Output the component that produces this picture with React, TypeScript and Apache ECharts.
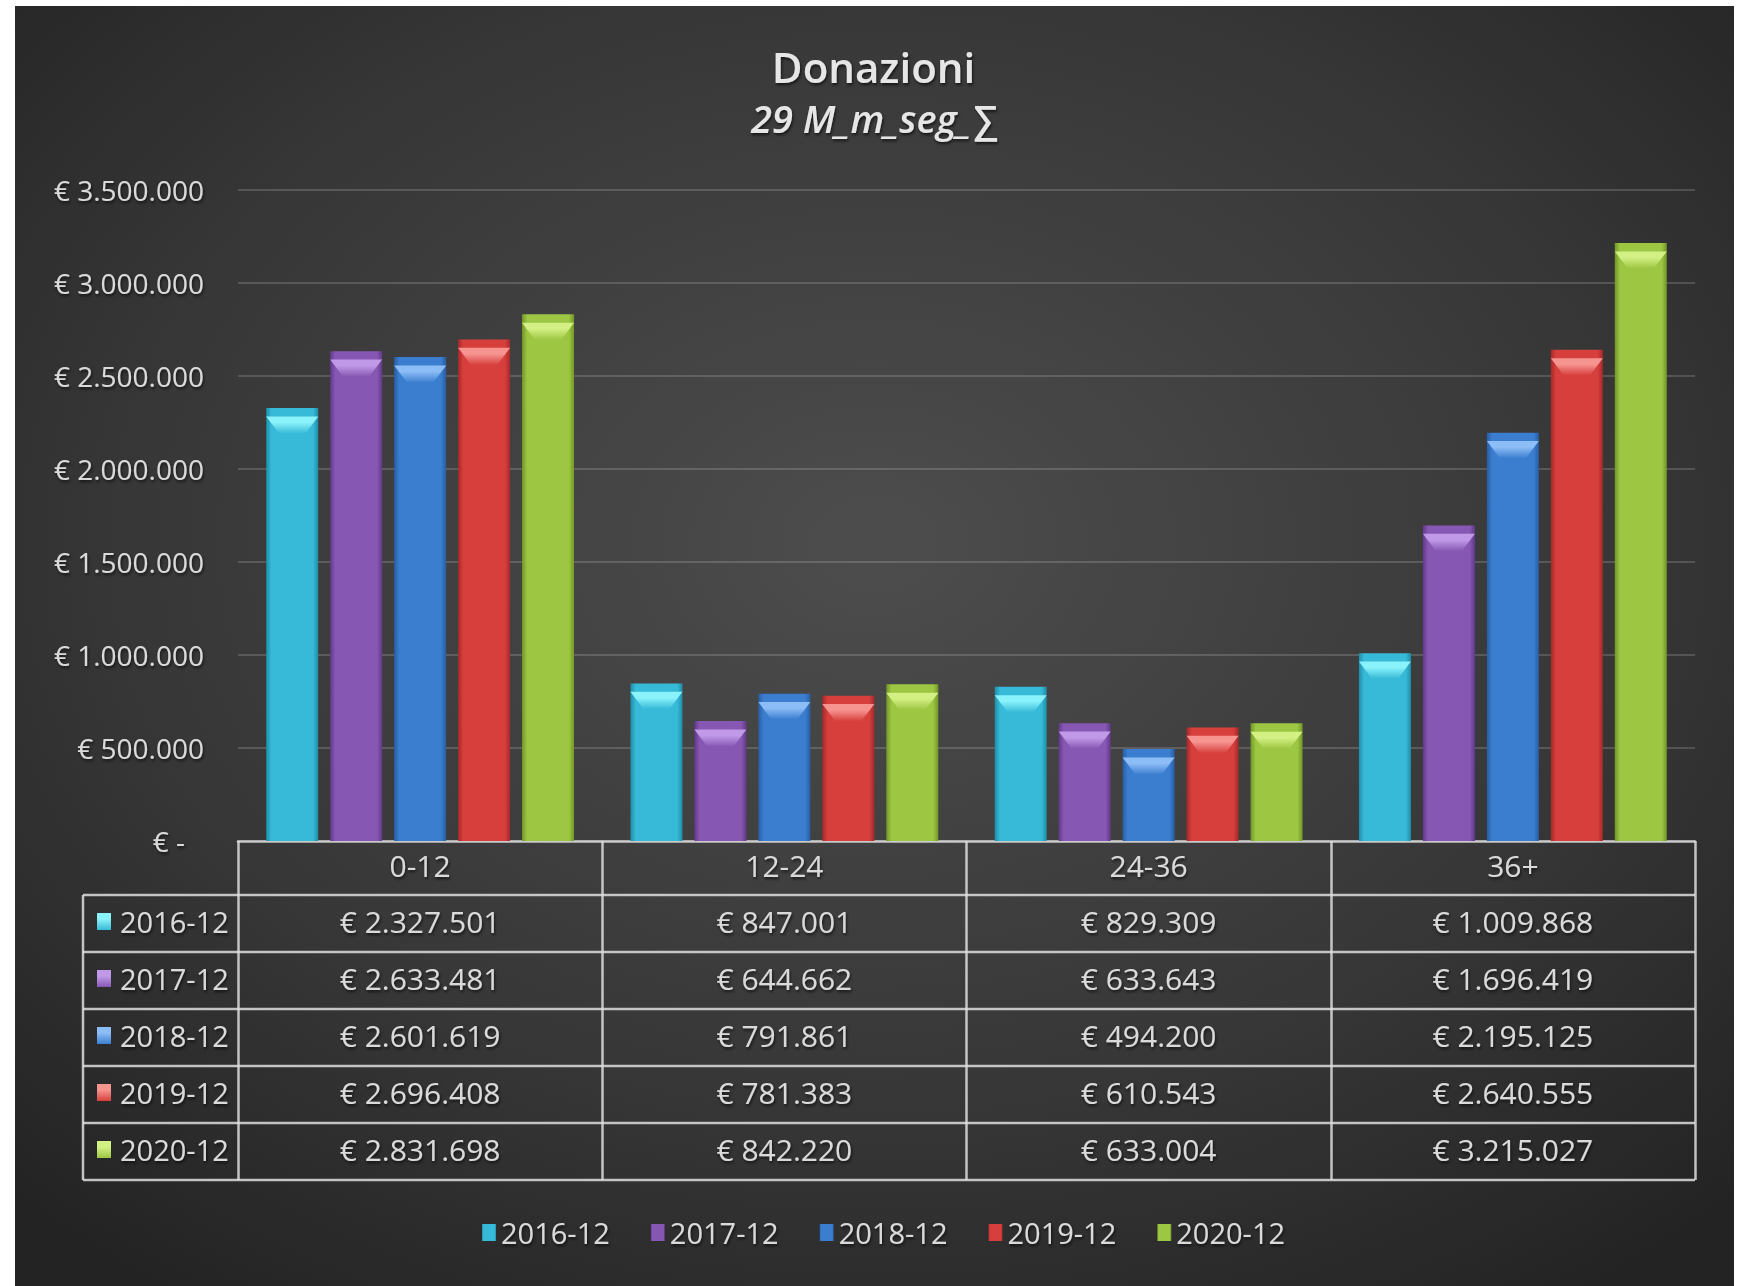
import React, { useEffect, useRef } from "react";
import * as echarts from "echarts";

// ---- data ----
const categories = ["0-12", "12-24", "24-36", "36+"];
const seriesNames = ["2016-12", "2017-12", "2018-12", "2019-12", "2020-12"];
const values2016 = [2327501, 847001, 829309, 1009868];
const values2017 = [2633481, 644662, 633643, 1696419];
const values2018 = [2601619, 791861, 494200, 2195125];
const values2019 = [2696408, 781383, 610543, 2640555];
const values2020 = [2831698, 842220, 633004, 3215027];
const yMin = 0;
const yMax = 3500000;
const yInterval = 500000;

const seriesValues = [values2016, values2017, values2018, values2019, values2020];

// ---- styles ----
const palette = [
  { main: "#36BAD7", edge: "#1F8DA8", top: "#8AF2FB" },
  { main: "#8758B3", edge: "#623889", top: "#C09AE8" },
  { main: "#3B7ED0", edge: "#285DA3", top: "#8CBDF6" },
  { main: "#D73F3D", edge: "#A62829", top: "#F69490" },
  { main: "#9DC643", edge: "#729726", top: "#D3F084" },
];

const W = 1747;
const H = 1286;
const GRID_LEFT = 238;
const GRID_RIGHT_X = 1695;
const GRID_TOP = 190;
const GRID_BOTTOM_Y = 841;
const HEADER_H = 54;
const ROW_H = 57;
const TABLE_LEFT = 83;
const TABLE_BOTTOM = GRID_BOTTOM_Y + HEADER_H + ROW_H * 5;
const LINE = "rgba(222,222,222,0.85)";
const TEXT = "#dadada";
const FONT = "'Open Sans', 'Noto Sans', sans-serif";
const shadow = {
  textShadowColor: "rgba(0,0,0,0.65)",
  textShadowBlur: 3,
  textShadowOffsetX: 1,
  textShadowOffsetY: 2,
};

const fmt = (n: number) =>
  "€ " + String(n).replace(/\B(?=(\d{3})+(?!\d))/g, ".");

const hGrad = (p: { main: string; edge: string }) =>
  new echarts.graphic.LinearGradient(0, 0, 1, 0, [
    { offset: 0, color: p.edge },
    { offset: 0.1, color: p.main },
    { offset: 0.9, color: p.main },
    { offset: 1, color: p.edge },
  ]);

const topGrad = (p: { main: string; top: string }) =>
  new echarts.graphic.LinearGradient(0, 0, 0, 1, [
    { offset: 0, color: p.top },
    { offset: 0.35, color: p.top },
    { offset: 1, color: p.main },
  ]);

export default function App() {
  const ref = useRef<HTMLDivElement>(null);

  useEffect(() => {
    document.body.style.margin = "0";
    if (!ref.current) return;
    const chart = echarts.init(ref.current, undefined, { renderer: "svg" });

    const barSeries = seriesNames.map((name, i) => ({
      name,
      type: "bar",
      data: seriesValues[i],
      barWidth: 52,
      barGap: "23%",
      itemStyle: { color: hGrad(palette[i]) },
      z: 2,
    }));

    const topSeries = seriesNames.map((name, i) => ({
      name: name + " ",
      type: "pictorialBar",
      data: seriesValues[i],
      barWidth: 52,
      barGap: "23%",
      symbol: "path://M0,0 L52,0 L39,17 L13,17 Z",
      symbolSize: [52, 17],
      symbolPosition: "end",
      symbolOffset: [0, "50%"],
      itemStyle: { color: topGrad(palette[i]) },
      z: 3,
      silent: true,
    }));

    const xAxes: any[] = [
      {
        type: "category",
        data: categories,
        gridIndex: 0,
        position: "bottom",
        axisLine: { show: true, lineStyle: { color: LINE, width: 2.5 } },
        axisTick: {
          show: true,
          interval: 0,
          length: TABLE_BOTTOM - GRID_BOTTOM_Y,
          lineStyle: { color: LINE, width: 2.5 },
        },
        axisLabel: {
          interval: 0,
          margin: HEADER_H / 2 - 3,
          verticalAlign: "middle",
          fontSize: 30,
          color: TEXT,
          fontFamily: FONT,
          ...shadow,
        },
        splitLine: { show: false },
      },
      ...seriesValues.map((vals, i) => ({
        type: "category",
        data: categories,
        gridIndex: 0,
        position: "bottom",
        offset: HEADER_H + i * ROW_H + ROW_H / 2 - 2,
        axisLine: { show: false },
        axisTick: { show: false },
        splitLine: { show: false },
        axisLabel: {
          interval: 0,
          margin: 0,
          verticalAlign: "middle",
          fontSize: 30,
          color: TEXT,
          fontFamily: FONT,
          ...shadow,
          formatter: (_v: string, idx: number) => fmt(vals[idx]),
        },
      })),
    ];

    const graphics: any[] = [
      {
        type: "rect",
        z: -100,
        silent: true,
        shape: { x: 15, y: 6, width: 1719, height: 1280 },
        style: {
          fill: new echarts.graphic.RadialGradient(0.5, 0.42, 0.72, [
            { offset: 0, color: "#4d4d4d" },
            { offset: 0.6, color: "#373737" },
            { offset: 1, color: "#232323" },
          ]),
        },
      },
    ];

    // table horizontal lines (rows)
    for (let r = 0; r <= 5; r++) {
      const y = GRID_BOTTOM_Y + HEADER_H + r * ROW_H;
      graphics.push({
        type: "line",
        silent: true,
        shape: { x1: TABLE_LEFT, y1: y, x2: GRID_RIGHT_X, y2: y },
        style: { stroke: LINE, lineWidth: 2.5 },
      });
    }
    graphics.push({
      type: "line",
      silent: true,
      shape: {
        x1: TABLE_LEFT,
        y1: GRID_BOTTOM_Y + HEADER_H,
        x2: TABLE_LEFT,
        y2: TABLE_BOTTOM,
      },
      style: { stroke: LINE, lineWidth: 2.5 },
    });

    // row legend keys
    seriesNames.forEach((name, i) => {
      const cy = GRID_BOTTOM_Y + HEADER_H + i * ROW_H + ROW_H / 2 - 2;
      graphics.push({
        type: "rect",
        silent: true,
        shape: { x: 97, y: cy - 8.5, width: 14, height: 17 },
        style: { fill: topGrad(palette[i]) },
      });
      graphics.push({
        type: "text",
        silent: true,
        x: 120,
        y: cy,
        style: {
          text: name,
          fill: TEXT,
          fontSize: 29,
          fontFamily: FONT,
          verticalAlign: "middle",
          align: "left",
          ...shadow,
        },
      });
    });

    chart.setOption({
      animation: false,
      backgroundColor: "#ffffff",
      title: {
        text: "Donazioni",
        subtext: "29 M_m_seg_∑",
        left: "center",
        top: 40,
        itemGap: 12,
        textStyle: {
          color: "#e6e6e6",
          fontSize: 42,
          fontWeight: 600,
          fontFamily: FONT,
          ...shadow,
        },
        subtextStyle: {
          color: "#e6e6e6",
          fontSize: 38,
          fontWeight: 600,
          fontStyle: "italic",
          fontFamily: FONT,
          ...shadow,
        },
      },
      legend: {
        data: seriesNames,
        left: 477,
        top: 1213,
        icon: "rect",
        itemWidth: 14,
        itemHeight: 17,
        itemGap: 41,
        textStyle: {
          color: TEXT,
          fontSize: 29,
          fontFamily: FONT,
          ...shadow,
        },
      },
      grid: {
        left: GRID_LEFT,
        right: W - GRID_RIGHT_X,
        top: GRID_TOP,
        height: GRID_BOTTOM_Y - GRID_TOP,
        containLabel: false,
      },
      xAxis: xAxes,
      yAxis: {
        type: "value",
        min: yMin,
        max: yMax,
        interval: yInterval,
        axisLine: { show: false },
        axisTick: { show: false },
        splitLine: {
          show: true,
          lineStyle: { color: "rgba(255,255,255,0.16)", width: 2 },
        },
        axisLabel: {
          margin: 34,
          fontSize: 28,
          color: TEXT,
          fontFamily: FONT,
          ...shadow,
          formatter: (v: number) => (v === 0 ? "{z|€ -}" : fmt(v)),
          rich: {
            z: {
              fontSize: 28,
              color: TEXT,
              fontFamily: FONT,
              padding: [0, 19, 0, 0],
            },
          },
        },
      },
      graphic: graphics,
      series: [...barSeries, ...topSeries],
    });

    return () => chart.dispose();
  }, []);

  return <div ref={ref} style={{ width: W, height: H }} />;
}
